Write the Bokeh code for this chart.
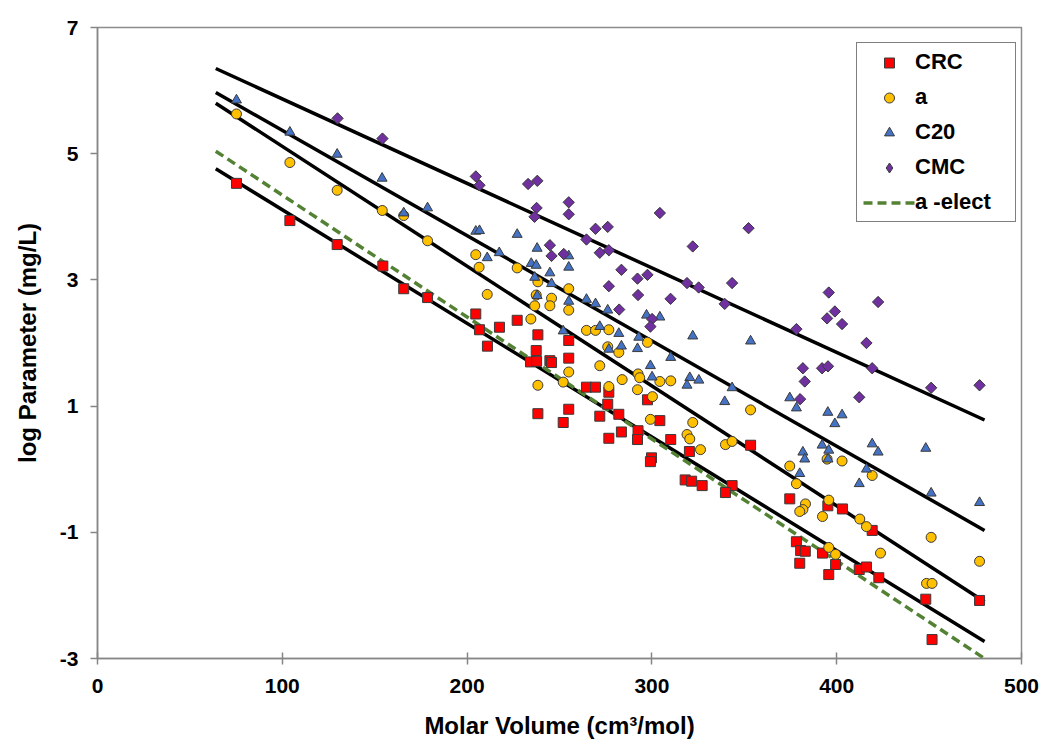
import math
from bokeh.plotting import figure
from bokeh.models import Legend, LegendItem, Range1d, FixedTicker
from bokeh.embed import file_html
from bokeh.resources import INLINE

# ---- data ----
crc_x = [75.2, 104.1, 129.7, 154.4, 165.7, 178.6, 204.7, 206.7, 211.0, 217.5, 227.1,
         238.3, 255.0, 237.4, 234.3, 237.6, 244.8, 245.7, 255.0, 264.6, 269.5, 276.7,
         276.1, 271.8, 282.1, 255.0, 252.0, 238.3, 283.5, 292.5, 292.2, 276.7, 297.6,
         304.3, 310.2, 299.8, 299.2, 320.3, 318.0, 321.5,
         353.4, 327.2, 343.4, 339.8, 374.6, 395.2, 403.1, 419.2, 378.2, 380.5, 383.0,
         392.3, 380.0, 399.4, 395.7, 412.2, 416.1, 422.8, 448.2, 477.3, 451.6]
crc_y = [4.53, 3.94, 3.56, 3.22, 2.86, 2.72, 2.46, 2.21, 1.95, 2.25, 2.36,
         2.13, 2.04, 1.88, 1.70, 1.71, 1.72, 1.69, 1.76, 1.30, 1.30, 1.22,
         1.03, 0.84, 0.87, 0.95, 0.74, 0.88, 0.59, 0.61, 0.47, 0.49, 1.10,
         0.77, 0.47, 0.18, 0.12, 0.28, -0.17, -0.19,
         0.38, -0.26, -0.26, -0.37, -0.47, -0.58, -0.63, -0.97, -1.15, -1.29, -1.30,
         -1.33, -1.49, -1.51, -1.67, -1.59, -1.55, -1.72, -2.06, -2.08, -2.70]

a_x = [75.2, 104.1, 129.7, 154.1, 165.7, 178.6, 204.7, 206.5, 210.9, 227.1,
       238.3, 237.4, 245.7, 244.8, 255.0, 255.0, 236.6, 234.5, 264.6, 269.5, 276.7,
       276.1, 282.1, 297.6, 271.8, 255.0, 292.5, 293.4, 283.9, 304.3, 310.2, 238.3,
       252.0, 276.7, 292.2, 300.3, 299.2, 322.1, 319.0, 320.5, 326.3,
       353.4, 339.8, 343.4, 374.6, 378.2, 394.8, 402.9, 419.2, 395.7, 383.1, 381.7,
       380.0, 392.3, 412.5, 416.1, 423.7, 395.7, 399.4, 451.1, 477.3, 448.6, 451.6]
a_y = [5.63, 4.86, 4.42, 4.10, 4.02, 3.62, 3.40, 3.20, 2.77, 3.19,
       2.97, 2.76, 2.71, 2.59, 2.86, 2.52, 2.59, 2.38, 2.20, 2.20, 2.21,
       1.94, 1.85, 2.01, 1.64, 1.54, 1.51, 1.45, 1.42, 1.39, 1.40, 1.33,
       1.38, 1.31, 1.26, 1.15, 0.79, 0.74, 0.55, 0.48, 0.31,
       0.94, 0.39, 0.44, 0.05, -0.23, 0.16, 0.13, -0.10, -0.49, -0.55, -0.64,
       -0.67, -0.75, -0.79, -0.91, -1.33, -1.24, -1.35, -1.08, -1.46, -1.81, -1.81]

c20_x = [75.2, 104.1, 129.7, 154.0, 165.7, 178.6, 204.7, 206.7, 217.4, 210.9, 227.1,
         237.9, 255.0, 234.7, 237.4, 255.0, 236.6, 244.8, 245.7, 237.9, 255.0, 264.6,
         269.5, 276.1, 297.1, 304.3, 271.8, 252.0, 282.1, 292.9, 276.7, 283.5, 292.2,
         322.1, 310.2, 299.2, 300.1, 320.5, 319.0, 325.4,
         353.4, 343.4, 339.4, 374.6, 378.2, 395.2, 402.9, 399.0, 419.2, 422.4, 392.1,
         395.7, 381.7, 382.7, 395.3, 416.1, 380.0, 412.2, 448.2, 451.1, 477.3]
c20_y = [5.85, 5.34, 4.99, 4.61, 4.06, 4.14, 3.77, 3.78, 3.43, 3.35, 3.72,
         3.50, 3.38, 3.26, 3.23, 3.20, 3.04, 3.11, 2.94, 2.75, 2.66, 2.69,
         2.62, 2.52, 2.44, 2.41, 2.26, 2.19, 2.15, 2.09, 1.90, 1.95, 1.91,
         2.11, 1.77, 1.64, 1.46, 1.45, 1.33, 1.41,
         2.03, 1.29, 1.07, 1.13, 0.97, 0.90, 0.86, 0.72, 0.40, 0.27, 0.38,
         0.30, 0.27, 0.16, 0.16, 0.00, -0.07, -0.23, 0.33, -0.38, -0.53]

cmc_x = [129.9, 154.2, 204.7, 206.7, 233.0, 238.0, 237.6, 255.0, 236.5, 255.0, 304.3,
         269.5, 276.1, 244.8, 245.7, 252.3, 264.6, 271.8, 276.7, 322.1, 283.5, 292.2,
         297.6, 276.7, 292.5, 310.1, 282.3, 300.1, 299.2, 319.0, 325.3, 352.3,
         343.4, 339.4, 395.7, 422.4, 399.0, 394.8, 402.9, 378.2, 416.1, 419.2, 381.7,
         392.1, 395.3, 382.7, 380.2, 412.2, 451.1, 477.3]
cmc_y = [5.56, 5.24, 4.64, 4.50, 4.52, 4.57, 4.14, 4.23, 4.00, 4.04, 4.06,
         3.81, 3.84, 3.55, 3.38, 3.41, 3.64, 3.43, 3.47, 3.53, 3.16, 3.02,
         3.08, 2.90, 2.76, 2.70, 2.53, 2.38, 2.26, 2.95, 2.88, 3.82,
         2.95, 2.62, 2.80, 2.65, 2.50, 2.39, 2.30, 2.22, 2.00, 1.60, 1.60,
         1.60, 1.63, 1.39, 1.11, 1.14, 1.29, 1.33]

fit_x = [64, 480]
crc_fit = [4.76, -2.73]
a_fit = [5.80, -2.10]
c20_fit = [5.97, -0.97]
cmc_fit = [6.35, 0.78]
a_elect_fit = [5.04, -3.0]

x_ticks = [0, 100, 200, 300, 400, 500]
y_ticks = [-3, -1, 1, 3, 5, 7]
y_tick_labels = {t: str(t) for t in y_ticks}

FONT = "Liberation Sans"

p = figure(width=1050, height=745, output_backend="svg", toolbar_location=None,
           x_range=Range1d(0, 500), y_range=Range1d(-3, 7),
           min_border_left=97, min_border_right=29, min_border_top=27, min_border_bottom=87)
p.xgrid.visible = False
p.ygrid.visible = False
p.outline_line_color = "#8c8c8c"
p.outline_line_width = 1.5
p.background_fill_color = "white"
p.border_fill_color = "white"

# fit lines
for yy in (crc_fit, a_fit, c20_fit, cmc_fit):
    p.line(fit_x, yy, line_color="black", line_width=3.5)
r_elect = p.line(fit_x, a_elect_fit, line_color="#548235", line_width=3.5, line_dash="9 5")

edge = "#3a3a3a"
r_crc = p.scatter(crc_x, crc_y, marker="square", size=10, fill_color="#FF0000",
                  line_color=edge, line_width=1)
r_a = p.scatter(a_x, a_y, marker="circle", size=10, fill_color="#FFC000",
                line_color=edge, line_width=1)
r_c20 = p.scatter(c20_x, c20_y, marker="triangle", size=10, fill_color="#4472C4",
                  line_color=edge, line_width=1)
# CMC: diamond glyph (used by the legend) under a rotated square of the same colour
r_cmc = p.scatter(cmc_x, cmc_y, marker="diamond", size=10,
                  fill_color="#7030A0", line_color=edge, line_width=1)
p.scatter(cmc_x, cmc_y, marker="square", size=8, angle=math.pi / 4,
          fill_color="#7030A0", line_color=edge, line_width=1)

for ax, ticks in ((p.xaxis[0], x_ticks), (p.yaxis[0], y_ticks)):
    ax.ticker = FixedTicker(ticks=ticks)
    ax.minor_tick_line_color = None
    ax.axis_line_color = "#868686"
    ax.axis_line_width = 1.5
    ax.major_tick_line_color = "#868686"
    ax.major_tick_line_width = 1.5
    ax.major_label_text_font = FONT
    ax.major_label_text_font_style = "bold"
    ax.major_label_text_font_size = "21px"
    ax.major_label_text_color = "black"
    ax.axis_label_text_font = FONT
    ax.axis_label_text_font_style = "bold"
    ax.axis_label_text_font_size = "24px"
    ax.axis_label_text_color = "black"

p.yaxis.major_label_overrides = y_tick_labels
p.xaxis.axis_label = "Molar Volume (cm³/mol)"
p.yaxis.axis_label = "log Parameter (mg/L)"
p.xaxis.major_tick_in = 6
p.xaxis.major_tick_out = 6
p.yaxis.major_tick_in = 0
p.yaxis.major_tick_out = 7
p.xaxis.major_label_standoff = 14
p.yaxis.major_label_standoff = 12
p.xaxis.axis_label_standoff = 16
p.yaxis.axis_label_standoff = 16

legend = Legend(items=[
    LegendItem(label="CRC", renderers=[r_crc]),
    LegendItem(label="a", renderers=[r_a]),
    LegendItem(label="C20", renderers=[r_c20]),
    LegendItem(label="CMC", renderers=[r_cmc]),
    LegendItem(label="a -elect", renderers=[r_elect]),
], location=(759, 436))
legend.margin = 0
legend.padding = 6
legend.spacing = 9
legend.glyph_width = 52
legend.glyph_height = 25
legend.label_height = 25
legend.label_width = 94
legend.label_standoff = 0
legend.label_text_font = FONT
legend.label_text_font_style = "bold"
legend.label_text_font_size = "22px"
legend.label_text_color = "black"
legend.border_line_color = "black"
legend.border_line_width = 1.5
legend.background_fill_color = "white"
legend.background_fill_alpha = 1.0
p.add_layout(legend, "center")

open("out.html", "w").write(file_html(p, INLINE))
